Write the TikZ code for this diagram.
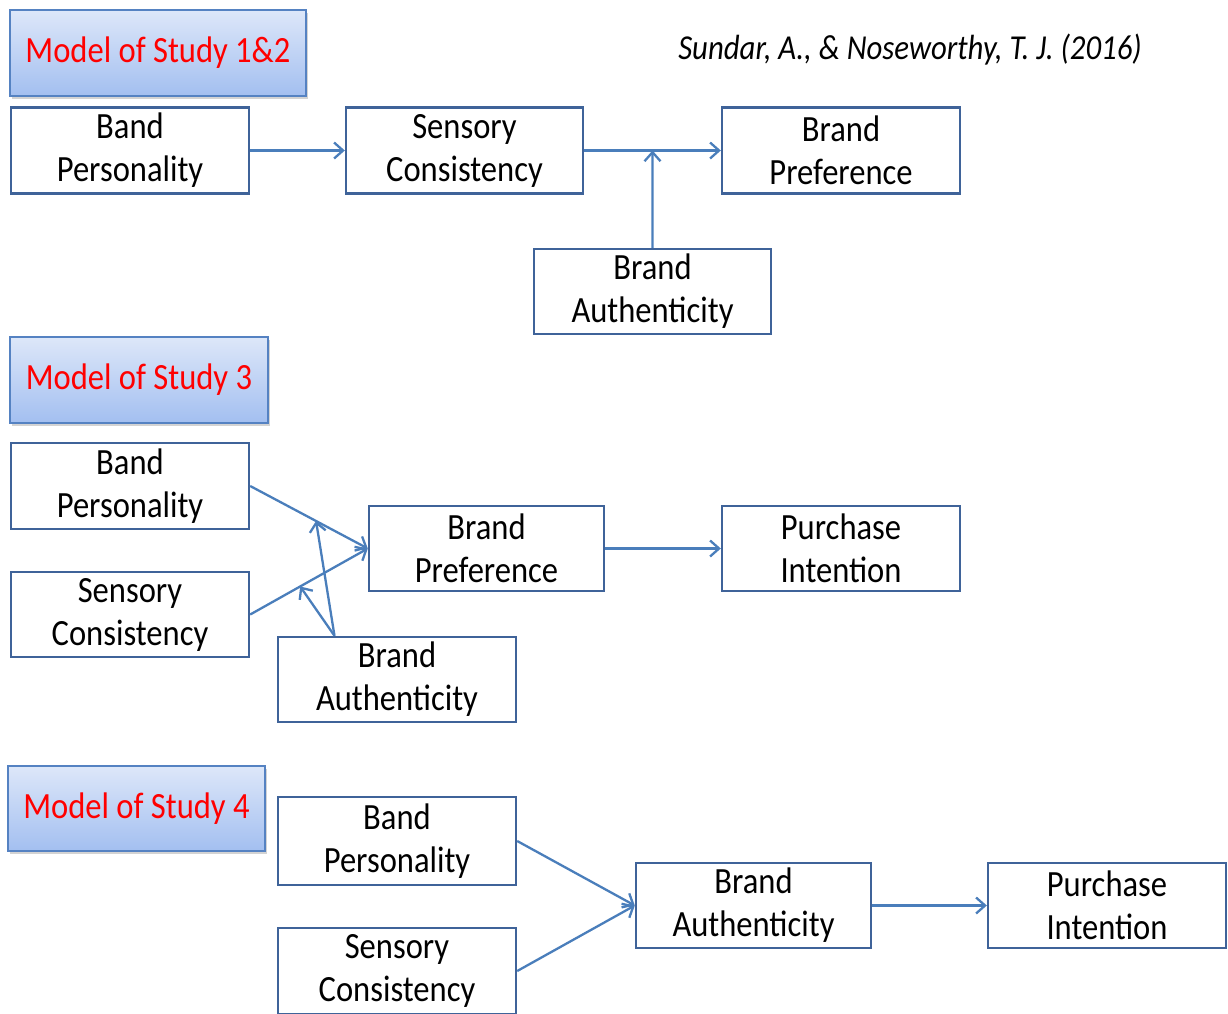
\documentclass[tikz,border=0pt]{standalone}
\usepackage{fontspec}
\setmainfont{Carlito}[FakeStretch=0.88]
\usetikzlibrary{arrows.meta,shadows,calc}
\definecolor{boxline}{HTML}{3F6399}
\definecolor{arrowc}{HTML}{4A7EBB}
\definecolor{titletop}{HTML}{DDE7F9}
\definecolor{titlebot}{HTML}{A3BFF0}
\definecolor{titleline}{HTML}{5582C2}
\begin{document}
\begin{tikzpicture}[x=1pt,y=-1pt,
  box/.style={draw=boxline, line width=2.4pt, fill=white, align=center,
    minimum width=237pt, minimum height=86pt, inner sep=0pt,
    font=\fontsize{37}{43}\selectfont, text=black},
  titlebox/.style={draw=titleline, line width=1.8pt, top color=titletop, bottom color=titlebot,
    minimum height=86pt, inner sep=0pt, text=red, font=\fontsize{37}{43}\selectfont,
    drop shadow={shadow xshift=2pt, shadow yshift=-3pt, opacity=0.35}},
  arr/.style={draw=arrowc, line width=2.3pt, -{Straight Barb[length=9pt,width=16pt,line width=2.3pt]}}
]
\useasboundingbox (0,0) rectangle (1228,1013);
\clip (0,0) rectangle (1228,1013);

% Study 1&2
\node[titlebox, minimum width=296pt] (t1) at (158,53) {Model of Study 1\&2};
\node[font=\fontsize{35}{40}\selectfont\itshape, text=black] (cite) at (910,50) {Sundar, A., \& Noseworthy, T. J. (2016)};
\node[box, minimum width=238pt] (bp1) at (130,150.5) {Band\\Personality};
\node[box] (sc1) at (464.5,150.5) {Sensory\\Consistency};
\node[box, minimum width=238pt] (pref1) at (841,150.5) {Brand\\Preference};
\node[box, minimum height=85pt] (ba1) at (652.5,291.5) {Brand\\Authenticity};
\draw[arr] (bp1.east) -- (sc1.west);
\draw[arr] (sc1.east) -- (pref1.west);
\coordinate (m1) at ($(sc1.east)!0.5!(pref1.west)$);
\draw[arr] (ba1.north) -- (m1);

% Study 3
\node[titlebox, minimum width=258pt] (t2) at (139,380) {Model of Study 3};
\node[box, minimum width=238pt] (bp2) at (130,486) {Band\\Personality};
\node[box, minimum width=238pt, minimum height=85pt] (sc2) at (130,614.5) {Sensory\\Consistency};
\node[box, minimum width=235pt, minimum height=85pt] (pref2) at (486.5,548.5) {Brand\\Preference};
\node[box, minimum width=238pt, minimum height=85pt] (pi2) at (841,548.5) {Purchase\\Intention};
\node[box, minimum width=238pt, minimum height=85pt] (ba2) at (397,679.5) {Brand\\Authenticity};
\draw[arr] (bp2.east) -- (pref2.west);
\draw[arr] (sc2.east) -- (pref2.west);
\draw[arr] (pref2.east) -- (pi2.west);
\coordinate (a2) at ($(ba2.north west)!0.24!(ba2.north east)$);
\coordinate (u2) at ($(bp2.east)!0.56!(pref2.west)$);
\coordinate (l2) at ($(sc2.east)!0.425!(pref2.west)$);
\draw[arr] (a2) -- (u2);
\draw[arr] (a2) -- (l2);

% Study 4
\node[titlebox, minimum width=257pt, minimum height=85pt] (t3) at (136.5,808.5) {Model of Study 4};
\node[box, minimum width=238pt, minimum height=88pt] (bp3) at (397,841) {Band\\Personality};
\node[box, minimum width=238pt, minimum height=86pt] (sc3) at (397,971) {Sensory\\Consistency};
\node[box, minimum width=235pt, minimum height=85pt] (ba3) at (753.5,905.5) {Brand\\Authenticity};
\node[box, minimum width=238pt, minimum height=85pt] (pi3) at (1107,905.5) {Purchase\\Intention};
\draw[arr] (bp3.east) -- (ba3.west);
\draw[arr] (sc3.east) -- (ba3.west);
\draw[arr] (ba3.east) -- (pi3.west);
\end{tikzpicture}
\end{document}
